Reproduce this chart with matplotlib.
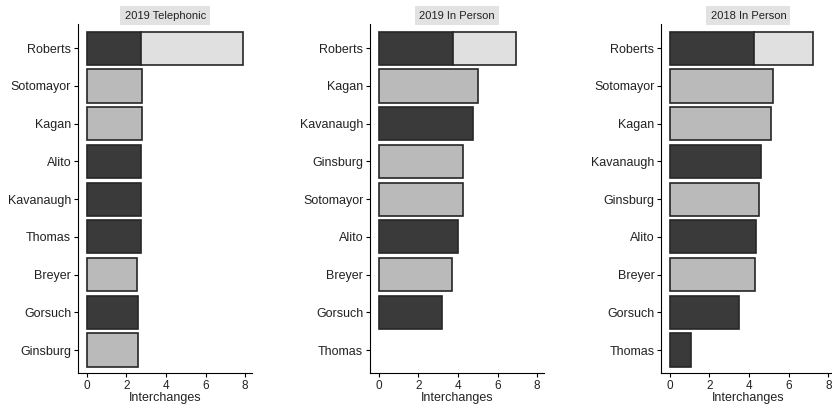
import matplotlib.pyplot as plt

plt.rcParams['font.family'] = ['Liberation Sans', 'DejaVu Sans']

titles = ['2019 Telephonic', '2019 In Person', '2018 In Person']

names_tel19 = ['Roberts', 'Sotomayor', 'Kagan', 'Alito', 'Kavanaugh',
               'Thomas', 'Breyer', 'Gorsuch', 'Ginsburg']
vals_tel19 = [7.9, 2.8, 2.8, 2.75, 2.75, 2.75, 2.55, 2.6, 2.6]

names_ip19 = ['Roberts', 'Kagan', 'Kavanaugh', 'Ginsburg', 'Sotomayor',
              'Alito', 'Breyer', 'Gorsuch', 'Thomas']
vals_ip19 = [6.95, 5.0, 4.75, 4.25, 4.25, 4.0, 3.7, 3.2, 0.0]

names_ip18 = ['Roberts', 'Sotomayor', 'Kagan', 'Kavanaugh', 'Ginsburg',
              'Alito', 'Breyer', 'Gorsuch', 'Thomas']
vals_ip18 = [7.2, 5.2, 5.1, 4.6, 4.5, 4.35, 4.3, 3.5, 1.05]

# first (dark) part of the Roberts bar in each panel
roberts_dark = [2.75, 3.75, 4.25]

liberal = ['Sotomayor', 'Kagan', 'Breyer', 'Ginsburg']

DARK = '#3a3a3a'
LIGHT = '#bababa'
PALE = '#e0e0e0'
EDGE = '#262626'

fig = plt.figure(figsize=(8.32, 4.09), dpi=100)
lefts = [0.094, 0.445, 0.795]
panels = [(names_tel19, vals_tel19), (names_ip19, vals_ip19), (names_ip18, vals_ip18)]

for k, (names, vals) in enumerate(panels):
    ax = fig.add_axes([lefts[k], 0.088, 0.209, 0.853])
    ys = list(range(len(names)))
    for y, n, v in zip(ys, names, vals):
        if v <= 0:
            continue
        if n == 'Roberts':
            d = roberts_dark[k]
            ax.barh(y, d, height=0.88, color=DARK, edgecolor=EDGE, lw=1.2)
            ax.barh(y, v - d, left=d, height=0.88, color=PALE, edgecolor=EDGE, lw=1.2)
        else:
            c = LIGHT if n in liberal else DARK
            ax.barh(y, v, height=0.88, color=c, edgecolor=EDGE, lw=1.2)
    ax.set_yticks(ys)
    ax.set_yticklabels(names, fontsize=9, color='#222222')
    ax.set_ylim(len(names) - 1 + 0.61, -0.64)
    ax.set_xlim(-0.42, 8.35)
    ax.set_xticks([0, 2, 4, 6, 8])
    ax.tick_params(axis='x', labelsize=8.5, length=3, pad=2, labelcolor='#222222')
    ax.tick_params(axis='y', length=3, pad=2)
    ax.spines['top'].set_visible(False)
    ax.spines['right'].set_visible(False)
    ax.set_xlabel('Interchanges', fontsize=9, labelpad=0, color='#222222')
    ax.set_title(titles[k], fontsize=8, pad=4, color='#222222',
                 bbox=dict(facecolor='#e2e2e2', edgecolor='none', pad=3))

fig.savefig('out.png', dpi=100)
